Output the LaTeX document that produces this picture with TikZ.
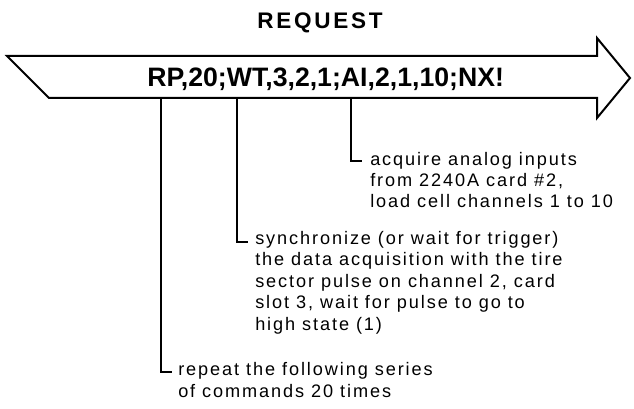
\documentclass[tikz,border=0pt]{standalone}
\usepackage{fontspec}
\setmainfont{Liberation Sans}
\newfontfamily\notefont[LetterSpace=10.5]{Liberation Sans}
\newfontfamily\headfont[LetterSpace=12]{Liberation Sans}
\usetikzlibrary{positioning}

\begin{document}
\begin{tikzpicture}[
  x=0.75pt, y=-0.75pt,
  note/.style={anchor=base west, align=left, inner sep=0pt, font=\notefont\fontsize{13.6}{16.1}\selectfont},
  lead/.style={line width=1.1pt},
  band/.style={line width=1.5pt, line join=miter}
]
\useasboundingbox (0,0) rectangle (634,409);

% title and request band
\node[font=\headfont\bfseries\fontsize{16.9}{20}\selectfont, anchor=base] (title) at (320,29) {REQUEST};
\draw[band] (7,56) -- (597,56) -- (597,38) -- (630,78) -- (597,118) -- (597,98) -- (49,98) -- cycle;
\node[font=\bfseries\fontsize{20}{23}\selectfont, anchor=base west, inner sep=0pt] (cmd) at (147,87) {RP,20;WT,3,2,1;AI,2,1,10;NX!};

% where the leads leave the band
\coordinate (rptop) at (161,98);
\coordinate (wttop) at (237,98);
\coordinate (aitop) at (351,98);
\coordinate (aifoot) at (362,161);
\coordinate (wtfoot) at (248,242);
\coordinate (rpfoot) at (172,372);

% notes (placed by the baseline of their last line)
\node[note] (acq) at (370,208) {acquire analog inputs\\from 2240A card \#2,\\load cell channels 1 to 10};
\node[note] (sync) at (255,330) {synchronize (or wait for trigger)\\the data acquisition with the tire\\sector pulse on channel 2, card\\slot 3, wait for pulse to go to\\high state (1)};
\node[note] (rep) at (178,397) {repeat the following series\\of commands 20 times};

\draw[lead] (aitop) |- (aifoot);
\draw[lead] (wttop) |- (wtfoot);
\draw[lead] (rptop) |- (rpfoot);
\end{tikzpicture}
\end{document}
